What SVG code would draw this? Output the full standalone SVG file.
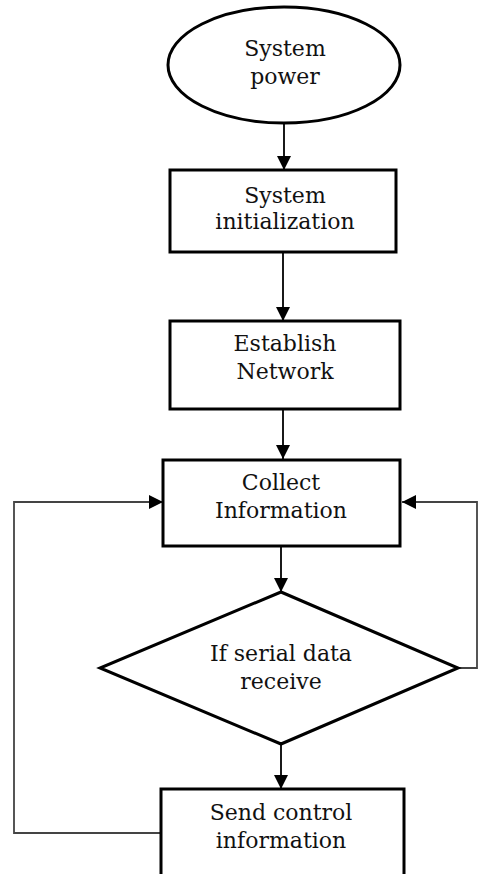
<svg xmlns="http://www.w3.org/2000/svg" width="478" height="874" viewBox="0 0 478 874">
<style>
.shape{fill:#fff;stroke:#000;stroke-width:3}
.conn{fill:none;stroke:#000;stroke-width:1.8}
.loop{fill:none;stroke:#444;stroke-width:1.8}
text{font-family:"DejaVu Serif","Liberation Serif",serif;font-size:22px;fill:#111;text-anchor:middle}
</style>
<defs>
<marker id="arr" markerUnits="userSpaceOnUse" markerWidth="16" markerHeight="16" viewBox="0 0 16 16" refX="14" refY="8" orient="auto">
<path d="M0,1 L14,8 L0,15 Z" fill="#000"/>
</marker>
</defs>
<rect width="478" height="874" fill="#fff"/>
<g id="connectors">
<line class="conn" x1="284" y1="123" x2="284" y2="170" marker-end="url(#arr)"/>
<line class="conn" x1="283" y1="252" x2="283" y2="321" marker-end="url(#arr)"/>
<line class="conn" x1="283" y1="409" x2="283" y2="459" marker-end="url(#arr)"/>
<line class="conn" x1="281" y1="546" x2="281" y2="592" marker-end="url(#arr)"/>
<line class="conn" x1="281" y1="744" x2="281" y2="789" marker-end="url(#arr)"/>
<polyline class="loop" points="161,833 14,833 14,502 163,502" marker-end="url(#arr)"/>
<polyline class="loop" points="458,668 477,668 477,502 402,502" marker-end="url(#arr)"/>
</g>
<g id="system-power">
<ellipse class="shape" cx="284" cy="65" rx="116" ry="58"/>
<text x="285" y="56">System</text>
<text x="285" y="84">power</text>
</g>
<g id="system-init">
<rect class="shape" x="170" y="170" width="226" height="82"/>
<text x="285" y="203">System</text>
<text x="285" y="229">initialization</text>
</g>
<g id="establish-network">
<rect class="shape" x="170" y="321" width="230" height="88"/>
<text x="285" y="351">Establish</text>
<text x="285" y="379">Network</text>
</g>
<g id="collect-info">
<rect class="shape" x="163" y="460" width="237" height="86"/>
<text x="281" y="490">Collect</text>
<text x="281" y="518">Information</text>
</g>
<g id="serial-decision">
<polygon class="shape" points="281,592 458,668 281,744 100,668"/>
<text x="281" y="661">If serial data</text>
<text x="281" y="689">receive</text>
</g>
<g id="send-control">
<rect class="shape" x="161" y="789" width="243" height="100"/>
<text x="281" y="820">Send control</text>
<text x="281" y="848">information</text>
</g>
</svg>
